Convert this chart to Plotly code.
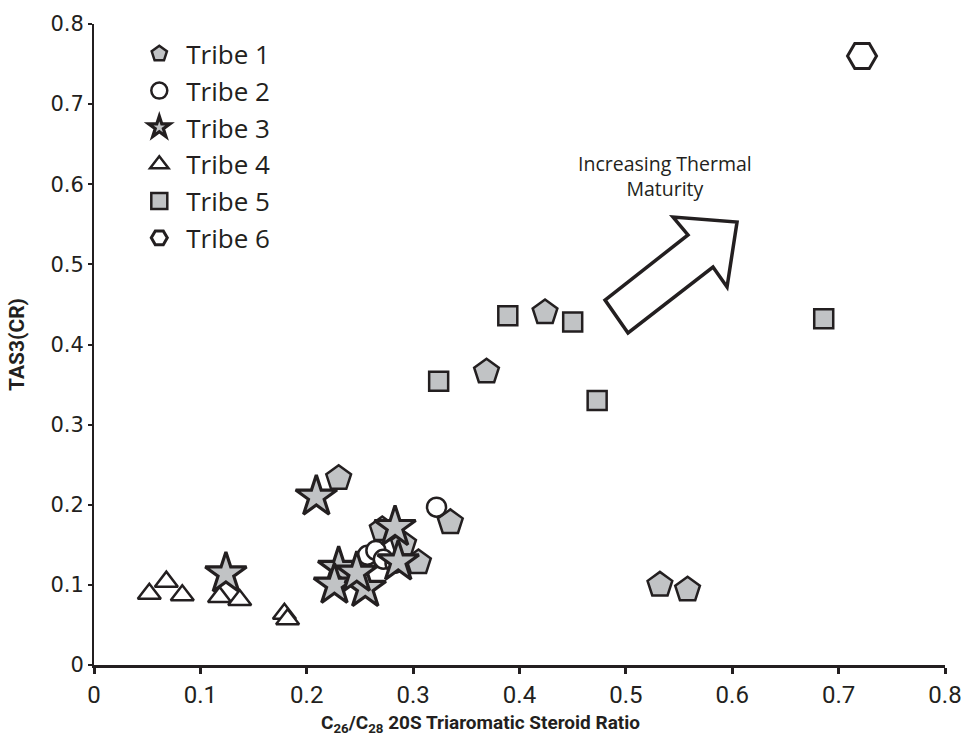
import plotly.graph_objects as go

# ---- data ----
t1_x = [0.230, 0.369, 0.424, 0.335, 0.271, 0.291, 0.305, 0.532, 0.558]
t1_y = [0.233, 0.366, 0.440, 0.178, 0.169, 0.151, 0.128, 0.100, 0.094]

t2_x = [0.322, 0.257, 0.265, 0.272, 0.283, 0.246]
t2_y = [0.197, 0.137, 0.143, 0.132, 0.127, 0.110]

t3_x = [0.209, 0.124, 0.230, 0.226, 0.255, 0.283, 0.286, 0.247]
t3_y = [0.210, 0.114, 0.121, 0.100, 0.096, 0.172, 0.129, 0.115]

t4_x = [0.052, 0.068, 0.083, 0.118, 0.137, 0.179, 0.182]
t4_y = [0.089, 0.104, 0.087, 0.085, 0.081, 0.064, 0.057]

t5_x = [0.389, 0.450, 0.324, 0.473, 0.686]
t5_y = [0.436, 0.428, 0.354, 0.330, 0.432]

t6_x = [0.722]
t6_y = [0.760]

x_ticks = [0, 0.1, 0.2, 0.3, 0.4, 0.5, 0.6, 0.7, 0.8]
y_ticks = [0, 0.1, 0.2, 0.3, 0.4, 0.5, 0.6, 0.7, 0.8]

# arrow outline (data coordinates)
arrow_x = [0.4804, 0.5584, 0.5443, 0.6045, 0.5951, 0.5819, 0.5020]
arrow_y = [0.4555, 0.5367, 0.5591, 0.5529, 0.4718, 0.4967, 0.4144]

INK = "#231f20"
GRAY = "#c1c3c5"
NARROW = "Liberation Sans Narrow, Roboto, sans-serif"

fig = go.Figure()

def add(name, xs, ys, symbol, size, fill, lw):
    fig.add_trace(go.Scatter(
        x=xs, y=ys, mode="markers", name=name,
        marker=dict(symbol=symbol, size=size, color=fill,
                    line=dict(color=INK, width=lw)),
    ))

add("Tribe 1", t1_x, t1_y, "pentagon", 26, GRAY, 2.5)
add("Tribe 2", t2_x, t2_y, "circle", 19, "white", 2.5)
add("Tribe 3", t3_x, t3_y, "star", 31, GRAY, 3.2)
add("Tribe 4", t4_x, t4_y, "triangle-up", 20, "white", 2.5)
add("Tribe 5", t5_x, t5_y, "square", 19, GRAY, 2.5)
add("Tribe 6", t6_x, t6_y, "hexagon2", 29, "white", 3)

path = "M " + " L ".join(f"{x},{y}" for x, y in zip(arrow_x, arrow_y)) + " Z"
fig.add_shape(type="path", path=path, xref="x", yref="y",
              line=dict(color=INK, width=3.5), fillcolor="white")

fig.add_annotation(x=0.537, y=0.61, xref="x", yref="y",
                   text="Increasing Thermal<br>Maturity", showarrow=False,
                   font=dict(family="Open Sans, sans-serif", size=19.5, color=INK),
                   align="center")

fig.add_annotation(x=0.4536, y=-0.092, xref="paper", yref="paper",
                   text="<b>C<sub>26</sub>/C<sub>28</sub> 20S Triaromatic Steroid Ratio</b>",
                   showarrow=False, xanchor="center", yanchor="middle",
                   font=dict(family=NARROW, size=19, color=INK))

fig.update_layout(
    width=962, height=737,
    margin=dict(l=94, r=17, t=24, b=72),
    paper_bgcolor="white", plot_bgcolor="white",
    legend=dict(x=0.045, y=0.99, xanchor="left", yanchor="top",
                font=dict(family="Open Sans, sans-serif", size=26, color=INK),
                tracegroupgap=0, itemsizing="trace", itemwidth=44,
                bgcolor="rgba(0,0,0,0)"),
    xaxis=dict(range=[0, 0.8], tickvals=x_ticks, ticktext=[str(v) for v in x_ticks],
               showgrid=False, zeroline=False, showline=True, linecolor=INK, linewidth=3,
               ticks="outside", ticklen=6, tickwidth=2.5, tickcolor=INK, automargin=False,
               tickfont=dict(family=NARROW, size=24, color=INK)),
    yaxis=dict(range=[0, 0.8], tickvals=y_ticks, ticktext=[str(v) for v in y_ticks],
               showgrid=False, zeroline=False, showline=True, linecolor=INK, linewidth=2,
               ticks="outside", ticklen=4, tickwidth=1.5, tickcolor=INK, automargin=False,
               tickfont=dict(family="DejaVu Sans, sans-serif", size=21, color=INK),
               title=dict(text="<b>TAS3(CR)</b>",
                          font=dict(family=NARROW, size=21, color=INK),
                          standoff=20)),
)

fig.write_html("out.html")
